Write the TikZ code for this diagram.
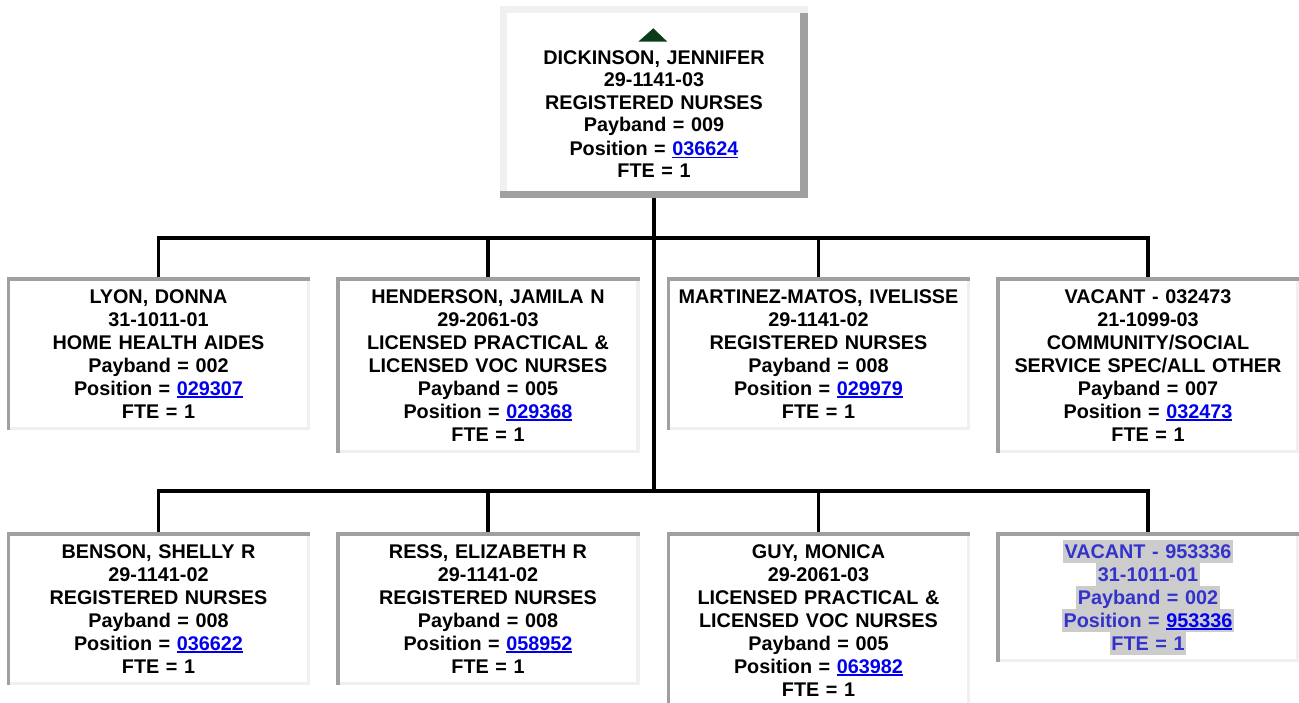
\documentclass[tikz,border=0pt]{standalone}
\usepackage{fontspec}
\setmainfont{Liberation Sans}
\usepackage{xcolor}
\definecolor{dg}{HTML}{A0A0A0}
\definecolor{lg}{HTML}{F0F0F0}
\definecolor{lb}{HTML}{0000EE}
\definecolor{vt}{HTML}{3333CC}
\definecolor{hl}{HTML}{CCCCCC}
\definecolor{tri}{HTML}{0B3B18}
\setlength\fboxsep{0pt}
\newsavebox\lnkbox
\newcommand\lnk[1]{\sbox\lnkbox{\color{lb}#1}{\color{lb}\rlap{\rule[-2.8pt]{\wd\lnkbox}{1.6pt}}}\usebox\lnkbox}
\newcommand\ls{\rule[-4.5pt]{0pt}{23pt}}
\newcommand\lt{\rule[-3.7pt]{0pt}{22.5pt}}
\newcommand\hlt[1]{\colorbox{hl}{\hspace{1.5pt}\ls#1\hspace{1.5pt}}}
\newcommand\cframe[1]{%
  \fill[lg] ([xshift=-3.5pt]#1.north east) rectangle (#1.south east);
  \fill[lg] ([yshift=3.5pt]#1.south west) rectangle (#1.south east);
  \fill[dg] (#1.north west) rectangle ([yshift=-3.5pt]#1.north east);
  \fill[dg] (#1.north west) rectangle ([xshift=3.5pt]#1.south west);}
\tikzset{
  cbox/.style={fill=white, text width=295pt, inner xsep=4pt, inner ysep=7.5pt,
    align=center, anchor=north, font=\fontsize{19.8}{23}\selectfont\bfseries},
  topbox/.style={fill=white, minimum width=308pt, minimum height=192pt, text width=300pt,
    inner xsep=4pt, inner ysep=0pt, align=center, anchor=north,
    font=\fontsize{19.8}{22.5}\selectfont\bfseries},
  conn/.style={line width=3.5pt, black, line join=miter},
}
\begin{document}
\begin{tikzpicture}[x=1pt,y=-1pt]
\useasboundingbox (0,0) rectangle (1299,702);
\fill[white] (0,0) rectangle (1299,702);

% top box
\node[topbox] (top) at (654,6) {\lt\\ \lt DICKINSON, JENNIFER\\ \lt 29-1141-03\\ \lt REGISTERED NURSES\\ \lt Payband = 009\\ \lt Position = \lnk{036624}\\ \lt FTE = 1};
\fill[dg] ([xshift=-8pt,yshift=-7pt]top.north east) rectangle (top.south east);
\fill[dg] ([yshift=7pt]top.south west) rectangle (top.south east);
\fill[lg] (top.north west) rectangle ([yshift=-7pt]top.north east);
\fill[lg] (top.north west) rectangle ([xshift=7pt,yshift=7pt]top.south west);
\fill[tri, shift={(top.north)}] (-0.7,22.3) -- (-15.7,35.7) -- (13.3,35.7) -- cycle;

% row 1
\node[cbox] (b11) at (158.5,277) {\ls LYON, DONNA\\ \ls 31-1011-01\\ \ls HOME HEALTH AIDES\\ \ls Payband = 002\\ \ls Position = \lnk{029307}\\ \ls FTE = 1};
\node[cbox] (b12) at (488,277) {\ls HENDERSON, JAMILA N\\ \ls 29-2061-03\\ \ls LICENSED PRACTICAL \&\\ \ls LICENSED VOC NURSES\\ \ls Payband = 005\\ \ls Position = \lnk{029368}\\ \ls FTE = 1};
\node[cbox] (b13) at (818.5,277) {\ls MARTINEZ-MATOS, IVELISSE\\ \ls 29-1141-02\\ \ls REGISTERED NURSES\\ \ls Payband = 008\\ \ls Position = \lnk{029979}\\ \ls FTE = 1};
\node[cbox] (b14) at (1148,277) {\ls VACANT - 032473\\ \ls 21-1099-03\\ \ls COMMUNITY/SOCIAL\\ \ls SERVICE SPEC/ALL OTHER\\ \ls Payband = 007\\ \ls Position = \lnk{032473}\\ \ls FTE = 1};

% row 2
\node[cbox] (b21) at (158.5,532) {\ls BENSON, SHELLY R\\ \ls 29-1141-02\\ \ls REGISTERED NURSES\\ \ls Payband = 008\\ \ls Position = \lnk{036622}\\ \ls FTE = 1};
\node[cbox] (b22) at (488,532) {\ls RESS, ELIZABETH R\\ \ls 29-1141-02\\ \ls REGISTERED NURSES\\ \ls Payband = 008\\ \ls Position = \lnk{058952}\\ \ls FTE = 1};
\node[cbox] (b23) at (818.5,532) {\ls GUY, MONICA\\ \ls 29-2061-03\\ \ls LICENSED PRACTICAL \&\\ \ls LICENSED VOC NURSES\\ \ls Payband = 005\\ \ls Position = \lnk{063982}\\ \ls FTE = 1};
\node[cbox, text=vt] (b24) at (1148,532) {\hlt{VACANT - 953336}\\ \hlt{31-1011-01}\\ \hlt{Payband = 002}\\ \hlt{Position = \lnk{953336}}\\ \hlt{FTE = 1}};

\foreach \n in {b11,b12,b13,b14,b21,b22,b23,b24} {\cframe{\n}}

% connectors
\coordinate (busA) at (0,238);
\coordinate (busB) at (0,491);
\draw[conn] (top.south) -- (top.south |- busB);
\draw[conn] (b11.north) -- (b11.north |- busA) -- (b14.north |- busA) -- (b14.north);
\draw[conn] (b12.north |- busA) -- (b12.north);
\draw[conn] (b13.north |- busA) -- (b13.north);
\draw[conn] (b21.north) -- (b21.north |- busB) -- (b24.north |- busB) -- (b24.north);
\draw[conn] (b22.north |- busB) -- (b22.north);
\draw[conn] (b23.north |- busB) -- (b23.north);
\end{tikzpicture}
\end{document}
